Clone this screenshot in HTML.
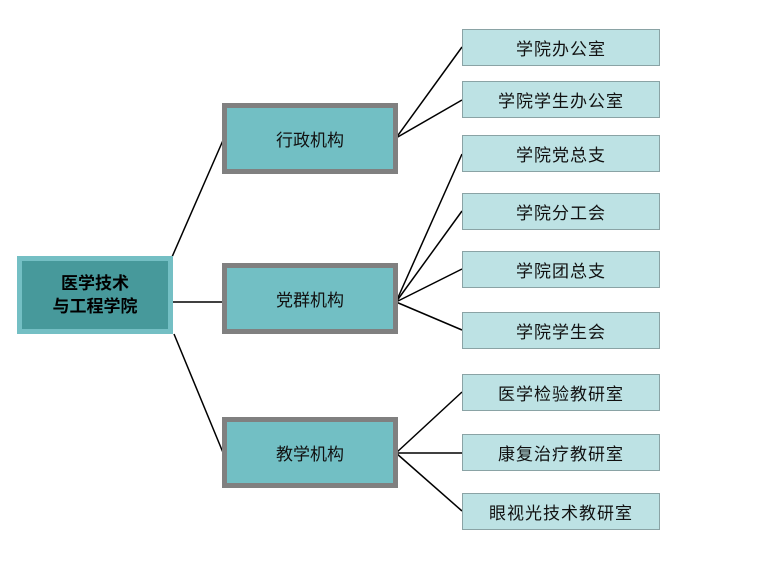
<!DOCTYPE html>
<html><head><meta charset="utf-8"><style>
body{margin:0;width:766px;height:572px;background:#fff;position:relative;overflow:hidden;font-family:"Liberation Sans","Noto Sans CJK SC",sans-serif}
.b{position:absolute;box-sizing:border-box;display:flex;align-items:center;justify-content:center;text-align:center}
.root{left:17px;top:256px;width:156px;height:78px;background:#47999b;border:5px solid #74bfc4;font-weight:bold;font-size:17px;line-height:23px;color:#000}
.mid{left:222px;width:176px;height:71px;background:#72bfc4;border:5px solid #808080;font-size:17px;color:#111}
.r{left:462px;width:198px;height:37px;background:#bde2e4;border:1px solid #8aa3a5;font-size:17px;color:#111;letter-spacing:1px}
svg{position:absolute;left:0;top:0}
</style></head><body>
<svg width="766" height="572"><g stroke="#000" stroke-width="1.5" fill="none">
<line x1="172" y1="257" x2="224" y2="138"/>
<line x1="173" y1="302" x2="222" y2="302"/>
<line x1="174" y1="334" x2="224" y2="455"/>
<line x1="396" y1="138" x2="462" y2="47"/>
<line x1="396" y1="138" x2="462" y2="100"/>
<line x1="396" y1="302" x2="462" y2="154"/>
<line x1="396" y1="302" x2="462" y2="211"/>
<line x1="396" y1="302" x2="462" y2="269"/>
<line x1="396" y1="302" x2="462" y2="330"/>
<line x1="396" y1="453" x2="462" y2="392"/>
<line x1="396" y1="453" x2="462" y2="453"/>
<line x1="396" y1="453" x2="462" y2="511"/>
</g></svg>
<div class="b root">医学技术<br>与工程学院</div>
<div class="b mid" style="top:103px">行政机构</div>
<div class="b mid" style="top:263px">党群机构</div>
<div class="b mid" style="top:417px">教学机构</div>
<div class="b r" style="top:29px">学院办公室</div>
<div class="b r" style="top:81px">学院学生办公室</div>
<div class="b r" style="top:135px">学院党总支</div>
<div class="b r" style="top:193px">学院分工会</div>
<div class="b r" style="top:251px">学院团总支</div>
<div class="b r" style="top:312px">学院学生会</div>
<div class="b r" style="top:374px">医学检验教研室</div>
<div class="b r" style="top:434px">康复治疗教研室</div>
<div class="b r" style="top:493px">眼视光技术教研室</div>
</body></html>
